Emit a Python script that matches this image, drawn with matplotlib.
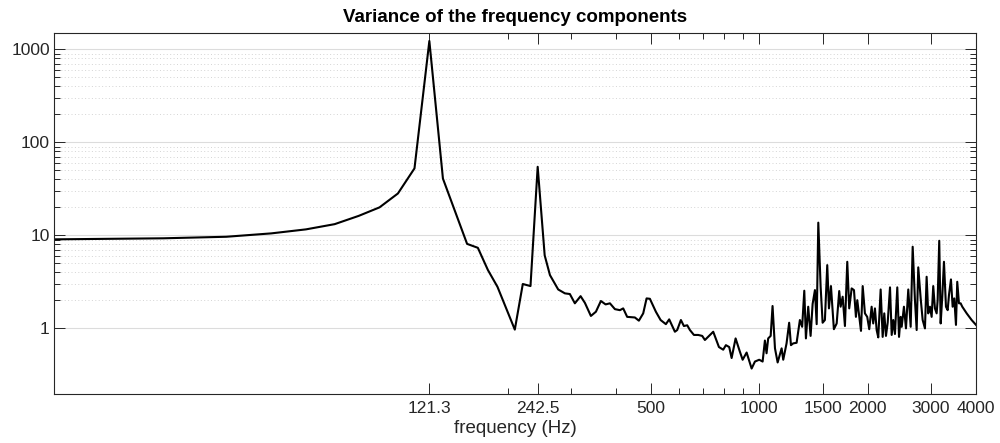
import numpy as np
import matplotlib
matplotlib.use('Agg')
import matplotlib.pyplot as plt
from matplotlib.ticker import FixedLocator, NullFormatter

plt.rcParams['font.family'] = ['Liberation Sans', 'DejaVu Sans']

# frequency (Hz) and variance
freq = [11.0, 22.1, 33.1, 44.1, 55.1, 66.2, 77.2, 88.2, 99.2, 110.3,
        121.3, 132.3, 154.4, 165.4, 176.4, 187.5, 209.5, 220.5, 231.6, 242.5,
        253.6, 262.3, 276.5, 288.6, 297.9, 307.6, 319.1, 328.0, 340.8, 351.9,
        363.3, 374.4, 384.9, 397.4, 410.3, 419.0, 429.8, 451.5, 463.2, 476.2,
        486.6, 497.0, 516.4, 532.2, 550.5, 562.3, 583.2, 591.8, 606.0, 617.7,
        631.0, 642.0, 658.6, 677.0, 694.5, 706.6, 745.2, 772.9, 794.3, 808.1,
        825.4, 838.2, 859.8, 883.9, 899.4, 922.6, 952.6, 973.0, 1000, 1022,
        1037, 1048, 1059, 1076, 1089, 1106, 1125, 1154, 1166, 1191,
        1211, 1225, 1243, 1270, 1297, 1316, 1334, 1348, 1368, 1389,
        1407, 1428, 1444, 1459, 1481, 1500, 1522, 1545, 1562, 1582,
        1612, 1641, 1668, 1683, 1705, 1730, 1756, 1778, 1806, 1833,
        1856, 1872, 1896, 1917, 1938, 1966, 1995, 2021, 2052, 2073,
        2096, 2119, 2141, 2174, 2202, 2225, 2249, 2274, 2308, 2333,
        2357, 2382, 2418, 2445, 2470, 2487, 2523, 2556, 2594, 2634,
        2668, 2707, 2737, 2765, 2808, 2844, 2886, 2917, 2947, 2980,
        3012, 3043, 3076, 3110, 3130, 3162, 3191, 3224, 3259, 3301,
        3337, 3365, 3408, 3445, 3481, 3519, 3548, 3587, 3626, 3664,
        3769, 3890, 4000]
variance = [9.06, 9.3, 9.66, 10.5, 11.6, 13.2, 16.2, 20.0, 28.2, 52.5,
            1230, 40.8, 8.1, 7.35, 4.24, 2.8, 0.97, 3.0, 2.85, 54.6,
            6.1, 3.74, 2.62, 2.38, 2.34, 1.86, 2.22, 1.88, 1.36, 1.51,
            1.97, 1.81, 1.86, 1.61, 1.57, 1.64, 1.33, 1.31, 1.21, 1.45,
            2.10, 2.08, 1.51, 1.23, 1.11, 1.25, 0.92, 0.96, 1.23, 1.06,
            1.08, 0.96, 0.85, 0.85, 0.83, 0.75, 0.92, 0.63, 0.59, 0.66,
            0.63, 0.48, 0.78, 0.56, 0.46, 0.55, 0.37, 0.44, 0.46, 0.44,
            0.74, 0.54, 0.78, 0.83, 1.74, 0.61, 0.43, 0.61, 0.46, 0.69,
            1.15, 0.66, 0.69, 0.70, 1.23, 1.04, 2.54, 0.78, 1.71, 0.83,
            1.83, 2.58, 1.11, 13.7, 2.80, 1.15, 1.23, 4.79, 1.64, 2.85,
            0.98, 1.13, 2.52, 1.71, 2.19, 1.06, 5.2, 1.64, 2.69, 2.58,
            1.33, 2.01, 1.33, 0.94, 2.85, 1.45, 1.33, 0.98, 1.71, 1.13,
            1.64, 0.96, 0.80, 2.62, 0.81, 1.45, 0.83, 1.15, 2.76, 0.85,
            1.23, 0.87, 2.76, 0.81, 1.33, 1.04, 1.71, 1.0, 2.62, 1.04,
            7.55, 2.01, 0.96, 4.53, 2.10, 1.23, 1.0, 3.59, 1.45, 1.71,
            1.33, 2.85, 1.64, 1.45, 2.01, 8.75, 1.13, 2.19, 5.2, 1.71,
            1.57, 2.28, 3.36, 1.71, 2.10, 1.09, 3.17, 1.86, 1.86, 1.71,
            1.45, 1.23, 1.09]

xticks = [121.3, 242.5, 500, 1000, 1500, 2000, 3000, 4000]
xtick_labels = ['121.3', '242.5', '500', '1000', '1500', '2000', '3000', '4000']
yticks = [1, 10, 100, 1000]

axcol = '#262626'
fig = plt.figure(figsize=(10, 4.43), dpi=100)
ax = fig.add_axes([0.054, 0.1106, 0.922, 0.815])
ax.plot(freq, variance, color='black', lw=1.5)
ax.set_xscale('log')
ax.set_yscale('log')
ax.set_xlim(11.0, 4000)
ax.set_ylim(0.197, 1500)

ax.xaxis.set_major_locator(FixedLocator(xticks))
ax.set_xticklabels(xtick_labels)
ax.xaxis.set_minor_locator(FixedLocator([200, 300, 400, 600, 700, 800, 900]))
ax.xaxis.set_minor_formatter(NullFormatter())
ax.yaxis.set_major_locator(FixedLocator(yticks))
ax.set_yticklabels(['1', '10', '100', '1000'])
ymin = [m * d for d in [1, 10, 100] for m in range(2, 10)]
ax.yaxis.set_minor_locator(FixedLocator(ymin))
ax.yaxis.set_minor_formatter(NullFormatter())

ax.tick_params(which='both', direction='in', top=True, right=True,
               colors=axcol, labelsize=12.5, width=0.7)
ax.tick_params(which='major', length=8)
ax.tick_params(which='minor', length=4)
ax.tick_params(axis='x', pad=5)
ax.tick_params(axis='y', pad=3)
for s in ax.spines.values():
    s.set_color(axcol)
    s.set_linewidth(0.8)

ax.grid(axis='y', which='major', color='#dcdcdc', lw=0.8, ls='-')
ax.grid(axis='y', which='minor', color='#d4d4d4', lw=0.7, ls=(0, (1, 2.5)))
ax.set_axisbelow(True)

ax.set_title('Variance of the frequency components', fontsize=13.5,
             fontweight='bold', pad=8)
ax.set_xlabel('frequency (Hz)', fontsize=13.5, color=axcol, labelpad=3)

fig.savefig('out.png', dpi=100)
